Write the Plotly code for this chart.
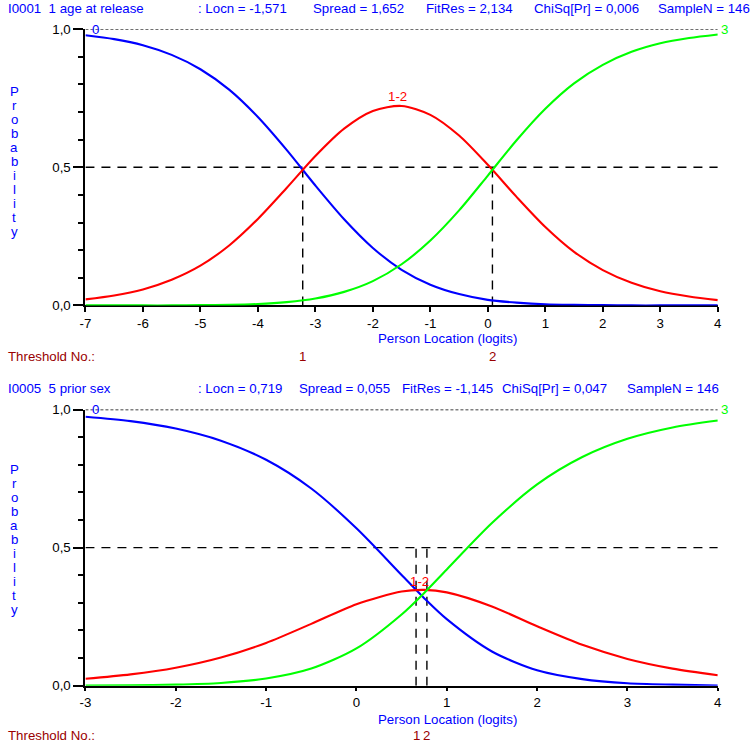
import plotly.graph_objects as go

# ---------------- data ----------------
top_x = [-7, -6.5, -6, -5.5, -5, -4.5, -4, -3.5, -3, -2.5, -2, -1.5, -1, -0.5,
         0, 0.5, 1, 1.5, 2, 2.5, 3, 3.5, 4]
top_p0 = [0.978, 0.964, 0.942, 0.907, 0.855, 0.781, 0.682, 0.563, 0.434, 0.312, 0.208, 0.129,
          0.075, 0.041, 0.020, 0.010, 0.004, 0.002, 0.001, 0.000, 0.000, 0.000, 0.000]
top_p1 = [0.022, 0.036, 0.058, 0.093, 0.144, 0.217, 0.313, 0.425, 0.541, 0.640, 0.704, 0.722,
          0.690, 0.615, 0.509, 0.393, 0.284, 0.194, 0.128, 0.082, 0.051, 0.032, 0.019]
top_p2 = [0.000, 0.000, 0.000, 0.000, 0.001, 0.002, 0.005, 0.012, 0.025, 0.049, 0.088, 0.149,
          0.235, 0.344, 0.470, 0.598, 0.712, 0.804, 0.871, 0.918, 0.949, 0.968, 0.981]
top_thresholds = [-3.22, 0.08]

bot_x = [-3, -2.5, -2, -1.5, -1, -0.5, 0, 0.5, 0.75, 1, 1.5, 2, 2.5, 3, 3.5, 4]
bot_p0 = [0.974, 0.958, 0.931, 0.887, 0.818, 0.714, 0.570, 0.401, 0.317, 0.241, 0.124, 0.056,
          0.024, 0.009, 0.004, 0.001]
bot_p1 = [0.025, 0.041, 0.065, 0.102, 0.155, 0.224, 0.295, 0.341, 0.347, 0.338, 0.287, 0.215,
          0.148, 0.097, 0.062, 0.038]
bot_p2 = [0.001, 0.002, 0.004, 0.010, 0.026, 0.062, 0.135, 0.258, 0.336, 0.421, 0.589, 0.729,
          0.828, 0.894, 0.935, 0.960]
bot_thresholds = [0.66, 0.78]

top_title_parts = ["I0001  1 age at release", ": Locn = -1,571", "Spread = 1,652",
                   "FitRes = 2,134", "ChiSq[Pr] = 0,006", "SampleN = 146"]
bot_title_parts = ["I0005  5 prior sex", ": Locn = 0,719", "Spread = 0,055",
                   "FitRes = -1,145", "ChiSq[Pr] = 0,047", "SampleN = 146"]

top_xticks = [-7, -6, -5, -4, -3, -2, -1, 0, 1, 2, 3, 4]
bot_xticks = [-3, -2, -1, 0, 1, 2, 3, 4]
y_tickvals = [0, 0.5, 1]
y_ticktext = ["0,0", "0,5", "1,0"]
curve_labels = ["0", "1-2", "3"]
y_axis_title = "Probability"

# ---------------- layout helpers ----------------
# Measured: the photographed page shows figure pixels at about S*(f + 8).
# Positions below are given in photographed (reference) pixels and mapped back.
W, H = 750, 743
SX, SY, OFF = 0.983, 0.979, 8
FS = 13 / SY          # font size that appears as ~13px
FONT = "Liberation Sans, Arial, sans-serif"
BLUE = "#0000FF"
RED = "#FF0000"
GREEN = "#00FF00"
DARKRED = "#990000"


def px(x):
    return min(max((x / SX - OFF) / W, 0.0), 1.0)


def py(y):
    return min(max(1 - (y / SY - OFF) / H, 0.0), 1.0)


fig = go.Figure()

panels = [
    dict(xa="x", ya="y", x=top_x, p=[top_p0, top_p1, top_p2], th=top_thresholds,
         rng=[-7, 4], ticks=top_xticks, top=30, bottom=306, title=top_title_parts,
         title_x=[0, 197, 312, 424, 532, 655], title_y=9, prob_top=92, ticklen=5,
         peak=(-1.57, 0.757), lab_y=[323, 339, 357]),
    dict(xa="x2", ya="y2", x=bot_x, p=[bot_p0, bot_p1, bot_p2], th=bot_thresholds,
         rng=[-3, 4], ticks=bot_xticks, top=410, bottom=686, title=bot_title_parts,
         title_x=[0, 197, 298, 400, 500, 625], title_y=389, prob_top=470, ticklen=3,
         peak=(0.70, 0.377), lab_y=[700, 720, 736]),
]

colors = [BLUE, RED, GREEN]
annotations = []
shapes = []

for i, pn in enumerate(panels):
    for c, ys in enumerate(pn["p"]):
        fig.add_trace(go.Scatter(x=pn["x"], y=ys, mode="lines", xaxis=pn["xa"], yaxis=pn["ya"],
                                 line=dict(color=colors[c], width=2.1, shape="spline", smoothing=0.8),
                                 showlegend=False, hoverinfo="skip"))
    xr, yr = pn["xa"], pn["ya"]
    shapes.append(dict(type="line", xref=xr, yref=yr, x0=pn["rng"][0], x1=pn["rng"][1], y0=1, y1=1,
                       line=dict(color="black", width=1.3, dash="3px,2px"), layer="below"))
    shapes.append(dict(type="line", xref=xr, yref=yr, x0=pn["rng"][0], x1=pn["rng"][1], y0=0.5, y1=0.5,
                       line=dict(color="black", width=1.4, dash="9px,7px"), layer="below"))
    for t in pn["th"]:
        shapes.append(dict(type="line", xref=xr, yref=yr, x0=t, x1=t, y0=0, y1=0.5,
                           line=dict(color="black", width=1.4, dash="9px,7px"), layer="below"))
    for txt, tx in zip(pn["title"], pn["title_x"]):
        annotations.append(dict(text=txt, x=px(tx), y=py(pn["title_y"]), xref="paper", yref="paper",
                                xanchor="left", yanchor="middle", showarrow=False,
                                font=dict(family=FONT, size=FS, color=BLUE)))
    annotations.append(dict(text=curve_labels[0], x=pn["rng"][0] + (pn["rng"][1] - pn["rng"][0]) * 0.016,
                            y=1.0, xref=xr, yref=yr, xanchor="center", yanchor="middle",
                            showarrow=False, font=dict(family=FONT, size=FS, color=BLUE)))
    annotations.append(dict(text=curve_labels[1], x=pn["peak"][0], y=pn["peak"][1], xref=xr, yref=yr,
                            xanchor="center", yanchor="middle", showarrow=False,
                            font=dict(family=FONT, size=FS, color=RED)))
    annotations.append(dict(text=curve_labels[2], x=pn["rng"][1], y=1.0, xref=xr, yref=yr,
                            xanchor="left", yanchor="middle", xshift=1, showarrow=False,
                            font=dict(family=FONT, size=FS, color=GREEN)))
    for k, ch in enumerate(y_axis_title):
        annotations.append(dict(text=ch, x=px(16), y=py(pn["prob_top"] + 14 * k),
                                xref="paper", yref="paper", xanchor="center", yanchor="middle",
                                showarrow=False, font=dict(family=FONT, size=FS, color=BLUE)))
    annotations.append(dict(text="Person Location (logits)", x=px(448), y=py(pn["lab_y"][1]),
                            xref="paper", yref="paper", xanchor="center", yanchor="middle",
                            showarrow=False, font=dict(family=FONT, size=FS, color=BLUE)))
    annotations.append(dict(text="Threshold No.:", x=px(0), y=py(pn["lab_y"][2]), xref="paper", yref="paper",
                            xanchor="left", yanchor="middle", showarrow=False,
                            font=dict(family=FONT, size=FS, color=DARKRED)))
    for k, t in enumerate(pn["th"]):
        annotations.append(dict(text=str(k + 1), x=t, y=py(pn["lab_y"][2]), xref=xr, yref="paper",
                                xanchor="center", yanchor="middle", showarrow=False,
                                font=dict(family=FONT, size=FS, color=DARKRED)))

axis_common = dict(showline=True, linecolor="black", linewidth=2.1, showgrid=False, zeroline=False,
                   ticks="outside", tickcolor="black", tickfont=dict(family=FONT, size=FS, color="black"),
                   layer="below traces")

fig.update_layout(
    width=W, height=H, margin=dict(l=0, r=0, t=0, b=0),
    paper_bgcolor="white", plot_bgcolor="white",
    xaxis=dict(domain=[px(87), px(717)], range=panels[0]["rng"], anchor="y",
               tickvals=top_xticks, ticktext=[str(v) for v in top_xticks],
               ticklen=panels[0]["ticklen"], tickwidth=1.5, **axis_common),
    yaxis=dict(domain=[py(306), py(30)], range=[0, 1], anchor="x",
               tickvals=y_tickvals, ticktext=y_ticktext, ticklen=10, tickwidth=1.5,
               minor=dict(dtick=0.1, ticklen=5, ticks="outside", tickcolor="black", tickwidth=1.5),
               **axis_common),
    xaxis2=dict(domain=[px(87), px(717)], range=panels[1]["rng"], anchor="y2",
                tickvals=bot_xticks, ticktext=[str(v) for v in bot_xticks],
                ticklen=panels[1]["ticklen"], tickwidth=1.5, **axis_common),
    yaxis2=dict(domain=[py(686), py(410)], range=[0, 1], anchor="x2",
                tickvals=y_tickvals, ticktext=y_ticktext, ticklen=10, tickwidth=1.5,
                minor=dict(dtick=0.1, ticklen=5, ticks="outside", tickcolor="black", tickwidth=1.5),
                **axis_common),
    annotations=annotations,
    shapes=shapes,
)

fig.write_html("out.html")
